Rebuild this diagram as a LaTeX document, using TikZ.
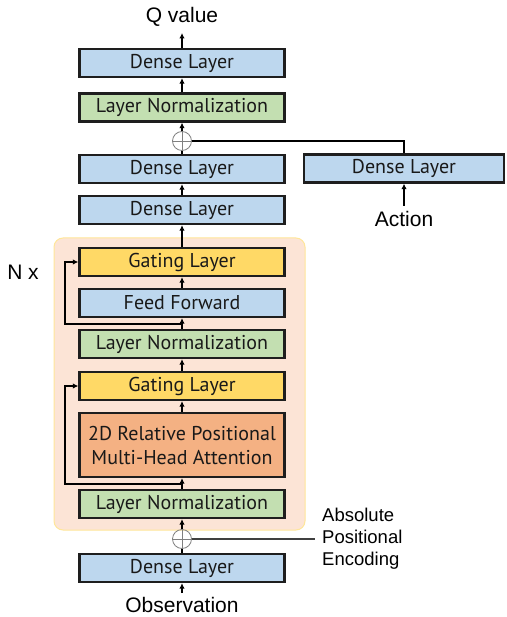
\documentclass[tikz,border=0pt]{standalone}
\usepackage{fontspec}
\setmainfont{Liberation Sans}
\newfontfamily\boxfont{PT Sans}
\usetikzlibrary{arrows.meta}
\definecolor{cblue}{HTML}{BDD7EE}
\definecolor{cgreen}{HTML}{C3DFB1}
\definecolor{cyellow}{HTML}{FFD966}
\definecolor{corange}{HTML}{F4B183}
\definecolor{cbg}{HTML}{FCE4D6}
\definecolor{cbgborder}{HTML}{FFE699}
\definecolor{cedge}{HTML}{1E1E1E}
\begin{document}
\begin{tikzpicture}[x=1pt,y=-1pt,
  layerbox/.style={draw=cedge, line width=2.3pt, minimum width=205pt, minimum height=28pt,
    inner sep=0pt, font=\boxfont\fontsize{20}{24}\selectfont, text=black!90, align=center},
  bluebox/.style={layerbox, fill=cblue},
  greenbox/.style={layerbox, fill=cgreen},
  yellowbox/.style={layerbox, fill=cyellow},
  orangebox/.style={layerbox, fill=corange, minimum height=64pt},
  plusnode/.style={circle, draw=gray, line width=0.8pt, minimum size=19pt, inner sep=0pt},
  conn/.style={line width=1.6pt, draw=black},
  arr/.style={conn, -{Latex[length=5.5pt,width=5.5pt]}},
  label/.style={font=\fontsize{21}{24}\selectfont, inner sep=0pt}
]
\useasboundingbox (0,0) rectangle (506,617);
% background block
\node[draw=cbgborder, fill=cbg, line width=1pt, rounded corners=9pt,
  minimum width=251pt, minimum height=292pt, inner sep=0pt] (bg) at (179.5,384) {};

% main column
\node[bluebox] (d4) at (182,63) {Dense Layer};
\node[greenbox] (ln3) at (182,107.5) {Layer Normalization};
\node[plusnode] (p1) at (182,141) {};
\node[bluebox] (d3) at (182,169) {Dense Layer};
\node[bluebox] (d2) at (182,210) {Dense Layer};
\node[yellowbox] (g1) at (182,262) {Gating Layer};
\node[bluebox] (ff) at (182,303) {Feed Forward};
\node[greenbox] (ln2) at (182,344) {Layer Normalization};
\node[yellowbox] (g2) at (182,386) {Gating Layer};
\node[orangebox] (att) at (182,445) {2D Relative Positional\\Multi-Head Attention};
\node[greenbox] (ln1) at (182,504) {Layer Normalization};
\node[plusnode] (p0) at (182,539) {};
\node[bluebox] (d1) at (182,568) {Dense Layer};
\node[bluebox, minimum width=200pt] (rd) at (404,168.5) {Dense Layer};

% labels
\node[label] (q) at (182,17) {Q value};
\node[label] (act) at (404,219) {Action};
\node[label] (obs) at (182,605) {Observation};
\node[label] (nx) at (23,272) {N x};
\node[font=\fontsize{18.5}{22}\selectfont, align=left, anchor=west, inner sep=0pt] (ape) at (322,539) {Absolute\\Positional\\Encoding};

% coordinates
\coordinate (qend) at (182,33);
\coordinate (aend) at (404,206);
\coordinate (oend) at (182,593);
\coordinate (apeend) at (315,539);
\coordinate (s1) at (182,324);
\coordinate (s2) at (182,484);
\coordinate (rdturn) at (404,141);

% plus signs
\draw[gray, line width=0.8pt] (p1.north) -- (p1.south) (p1.west) -- (p1.east);
\draw[gray, line width=0.8pt] (p0.north) -- (p0.south) (p0.west) -- (p0.east);

% connectors
\draw[arr] (d4.north) -- (qend);
\draw[arr] (ln3.north) -- (d4.south);
\draw[arr] (p1.north) -- (ln3.south);
\draw[conn] (d3.north) -- (p1.south);
\draw[conn] (p1.east) -- (rdturn) -- (rd.north);
\draw[arr] (aend) -- (rd.south);
\draw[arr] (d2.north) -- (d3.south);
\draw[arr] (g1.north) -- (d2.south);
\draw[arr] (ff.north) -- (g1.south);
\draw[arr] (ln2.north) -- (ff.south);
\draw[arr] (s1) -| (65,262) -- (g1.west);
\draw[arr] (g2.north) -- (ln2.south);
\draw[arr] (att.north) -- (g2.south);
\draw[arr] (ln1.north) -- (att.south);
\draw[arr] (s2) -| (65,386) -- (g2.west);
\draw[arr] (p0.north) -- (ln1.south);
\draw[conn] (d1.north) -- (p0.south);
\draw[conn, draw=black!75] (p0.east) -- (apeend);
\draw[arr] (oend) -- (d1.south);
\end{tikzpicture}
\end{document}
